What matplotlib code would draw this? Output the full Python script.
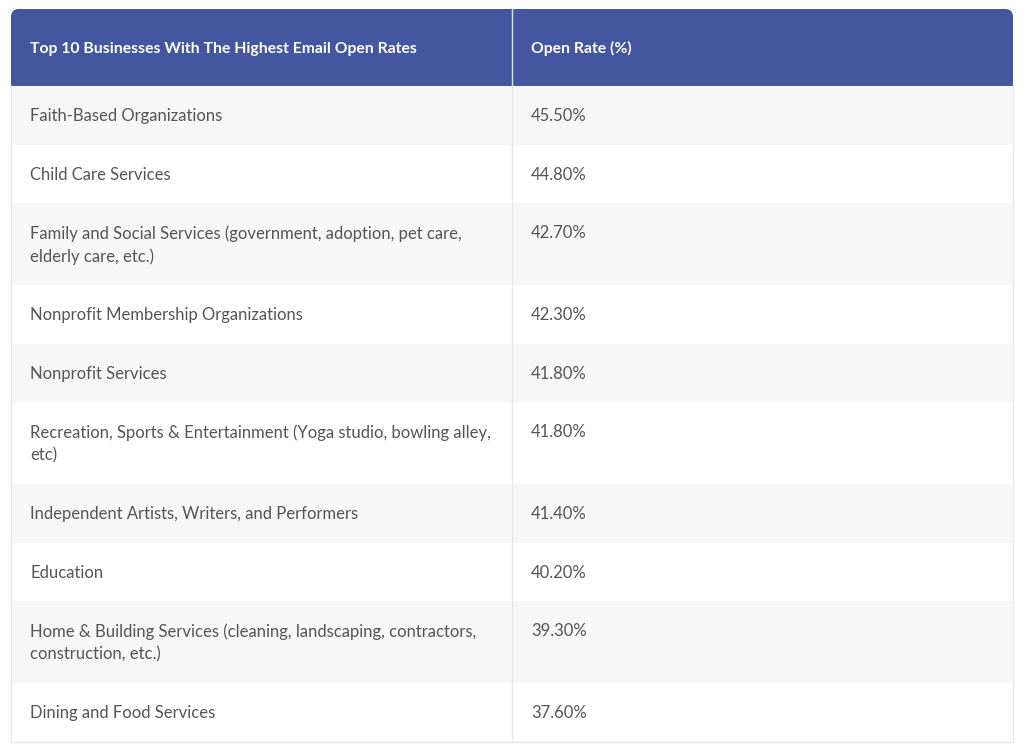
import matplotlib.pyplot as plt
from matplotlib.patches import Rectangle, FancyBboxPatch

header = ['Top 10 Businesses With The Highest Email Open Rates', 'Open Rate (%)']
businesses = [
    'Faith-Based Organizations',
    'Child Care Services',
    'Family and Social Services (government, adoption, pet care,\nelderly care, etc.)',
    'Nonprofit Membership Organizations',
    'Nonprofit Services',
    'Recreation, Sports & Entertainment (Yoga studio, bowling alley,\netc)',
    'Independent Artists, Writers, and Performers',
    'Education',
    'Home & Building Services (cleaning, landscaping, contractors,\nconstruction, etc.)',
    'Dining and Food Services',
]
open_rates = ['45.50%', '44.80%', '42.70%', '42.30%', '41.80%',
              '41.80%', '41.40%', '40.20%', '39.30%', '37.60%']

W, H = 1024, 745
left, right, mid = 11, 1013, 512
top, head_h = 9, 77
row_h1, row_h2 = 58.5, 82
line_gap = 23

header_color = '#4456a0'
text_color = '#555555'
border = '#e3e7ee'

plt.rcParams['font.family'] = ['Lato', 'DejaVu Sans']

fig = plt.figure(figsize=(W / 100, H / 100), dpi=100)
ax = fig.add_axes([0, 0, 1, 1])
ax.set_xlim(0, W)
ax.set_ylim(H, 0)
ax.axis('off')

# header, rounded on top only
ax.add_patch(FancyBboxPatch((left, top), right - left, head_h,
                            boxstyle='round,pad=0,rounding_size=8',
                            fc=header_color, ec='none'))
ax.add_patch(Rectangle((left, top + 20), right - left, head_h - 20,
                       fc=header_color, ec='none'))
ax.plot([mid, mid], [top, top + head_h], color='#dfe3ef', lw=1)
for x, txt in zip([30, 531], header):
    ax.text(x, top + head_h / 2 + 1, txt, color='white', fontsize=11.3,
            fontweight='bold', va='center', ha='left')

# body rows
y = top + head_h
for i, (name, rate) in enumerate(zip(businesses, open_rates)):
    lines = name.split('\n')
    h = row_h1 if len(lines) == 1 else row_h2
    fc = '#f7f7f7' if i % 2 == 0 else 'white'
    ax.add_patch(Rectangle((left, y), right - left, h, fc=fc, ec='none'))
    ty = y + row_h1 / 2 + 1
    for k, ln in enumerate(lines):
        ax.text(30, ty + k * line_gap, ln, color=text_color, fontsize=12,
                va='center', ha='left')
    ax.text(531, ty, rate, color=text_color, fontsize=12, va='center', ha='left')
    y += h

bottom = y
ax.plot([mid, mid], [top + head_h, bottom], color=border, lw=1)
ax.plot([left, left, right, right], [top + head_h, bottom, bottom, top + head_h],
        color=border, lw=1)

fig.savefig('out.png', dpi=100)
